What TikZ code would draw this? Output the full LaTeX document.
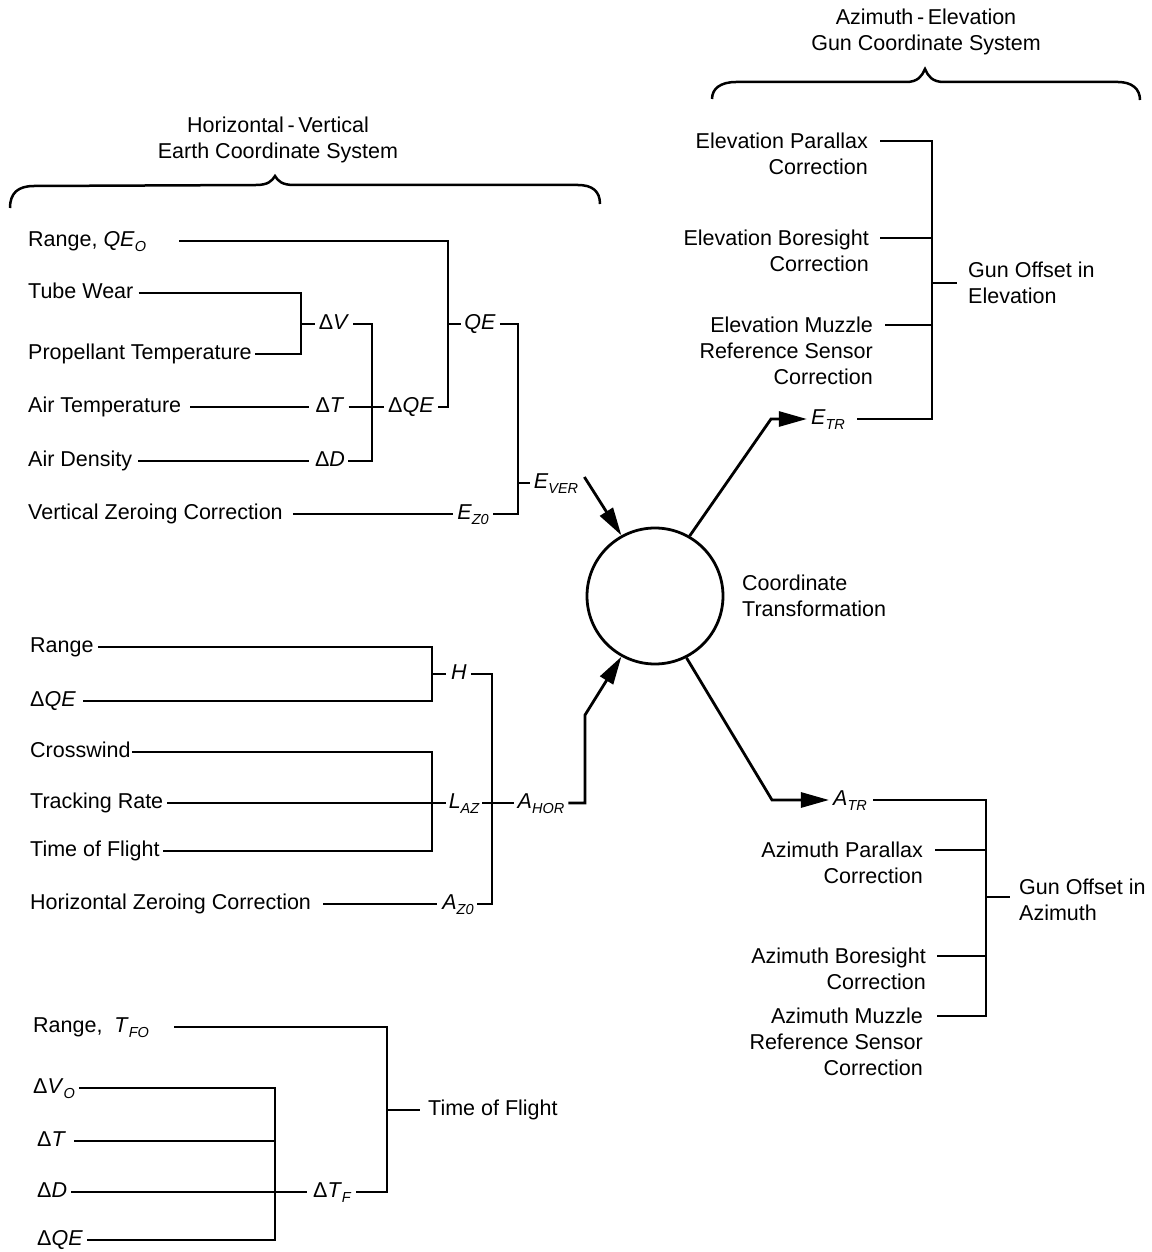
\documentclass[tikz,border=0pt]{standalone}
\usepackage{fontspec}
\setmainfont{Liberation Sans}
\usetikzlibrary{arrows.meta}
\newcommand\fsz{\fontsize{21.5}{26}\selectfont}
\newcommand\sub[2]{\textit{#1}\raisebox{-5pt}{\fontsize{14.5}{15}\selectfont\itshape #2}}

\begin{document}
\begin{tikzpicture}[x=1pt,y=-1pt,font=\fsz,
  lab/.style={inner sep=0pt,text height=15pt,text depth=4pt},
  txt/.style={lab,anchor=west},
  mid/.style={lab,anchor=center},
  blk/.style={inner sep=0pt,align=right,anchor=north east},
  side/.style={inner sep=0pt,align=left,anchor=west},
  wire/.style={line width=2.8pt},
  arr/.style={line width=2.8pt,-{Triangle[length=28pt,width=15pt]}},
  brace/.style={line width=2.5pt},
]
\fill[white] (0,0) rectangle (1151,1252);
\useasboundingbox (0,0) rectangle (1151,1252);

% ---------- group titles and braces ----------
\node[inner sep=0pt,align=center] (t1) at (278,140) {Horizontal\,-\,Vertical\\Earth Coordinate System};
\node[inner sep=0pt,align=center] (t2) at (926,32) {Azimuth\,-\,Elevation\\Gun Coordinate System};

\draw[brace] (10,208) .. controls (10,193) and (18,186) .. (34,186) -- (256,185)
  .. controls (268,185) and (272,181) .. (275,176)
  .. controls (278,181) and (282,185) .. (294,185) -- (578,185)
  .. controls (592,185) and (600,191) .. (600,204);
\draw[brace] (712,99) .. controls (712,89) and (720,82) .. (736,82) -- (906,82)
  .. controls (918,82) and (922,76) .. (925,69)
  .. controls (928,76) and (932,82) .. (944,82) -- (1118,82)
  .. controls (1132,82) and (1140,89) .. (1140,100);

% ---------- vertical (elevation) inputs ----------
\node[txt] (r1) at (28,241) {Range, \sub{QE}{O}};
\node[txt] (tw) at (28,293) {Tube Wear};
\node[txt] (pt) at (28,354) {Propellant Temperature};
\node[txt] (at) at (28,407) {Air Temperature};
\node[txt] (ad) at (28,461) {Air Density};
\node[txt] (vz) at (28,514) {Vertical Zeroing Correction};
\node[mid] (dV) at (334,324) {Δ\textit{V}};
\node[mid] (dT) at (330,407) {Δ\textit{T}};
\node[mid] (dD) at (330,461) {Δ\textit{D}};
\node[mid] (dQE) at (411,407) {Δ\textit{QE}};
\node[mid] (QE) at (480,324) {\textit{QE}};
\node[mid] (Ez) at (473,514) {\sub{E}{Z0}};
\node[mid] (Ev) at (556,483) {\sub{E}{VER}};

\coordinate (jV) at (301,324);
\coordinate (jQ) at (372,407);
\coordinate (jQE) at (448,324);
\coordinate (jE) at (518,483);

\draw[wire] ([xshift=33pt]r1.east) -| (jQE) |- ([xshift=4pt]dQE.east);
\draw[wire] (jQE) -- ([xshift=-3pt]QE.west);
\draw[wire] ([xshift=5pt]tw.east) -| (jV) |- ([xshift=3pt]pt.east);
\draw[wire] (jV) -- ([xshift=-4pt]dV.west);
\draw[wire] ([xshift=4pt]dV.east) -| (jQ) |- ([xshift=3pt]dD.east);
\draw[wire] ([xshift=4pt]dT.east) -- ([xshift=-4pt]dQE.west);
\draw[wire] ([xshift=9pt]at.east) -- ([xshift=-6pt]dT.west);
\draw[wire] ([xshift=6pt]ad.east) -- ([xshift=-6pt]dD.west);
\draw[wire] ([xshift=10pt]vz.east) -- ([xshift=-4pt]Ez.west);
\draw[wire] ([xshift=4pt]QE.east) -| (jE) |- ([xshift=4pt]Ez.east);
\draw[wire] (jE) -- ([xshift=-4pt]Ev.west);

% ---------- transformation ----------
\node[draw,circle,line width=2.8pt,minimum size=136pt,inner sep=0pt] (ct) at (655,596) {};
\node[side] (ctl) at (742,596) {Coordinate\\Transformation};

\draw[arr] ([shift={(6,-6)}]Ev.east) -- (ct.119);

\node[mid] (Etr) at (828,419) {\sub{E}{TR}};
\coordinate (kTR) at (771,419);
\draw[arr] (ct.60) -- (kTR) -- ([xshift=-4pt]Etr.west);

\node[mid] (Atr) at (850,800) {\sub{A}{TR}};
\coordinate (kAR) at (772,800);
\draw[arr] (ct.-63) -- (kAR) -- ([xshift=-4pt]Atr.west);

% ---------- horizontal (azimuth) inputs ----------
\node[txt] (rg) at (30,647) {Range};
\node[txt] (dq) at (30,701) {Δ\textit{QE}};
\node[txt] (cw) at (30,752) {Crosswind};
\node[txt] (tr) at (30,803) {Tracking Rate};
\node[txt] (tf) at (30,851) {Time of Flight};
\node[txt] (hz) at (30,904) {Horizontal Zeroing Correction};
\node[mid] (H) at (459,674) {\textit{H}};
\node[mid] (Laz) at (464,803) {\sub{L}{AZ}};
\node[mid] (Ahor) at (541,803) {\sub{A}{HOR}};
\node[mid] (Az) at (458,904) {\sub{A}{Z0}};

\coordinate (jH) at (432,674);
\coordinate (jL) at (432,803);
\coordinate (jA) at (492,803);
\coordinate (kAH) at (585,715);

\draw[wire] ([xshift=4pt]rg.east) -| (jH) |- ([xshift=7pt]dq.east);
\draw[wire] (jH) -- ([xshift=-5pt]H.west);
\draw[wire] ([xshift=1pt]cw.east) -| (jL) |- ([xshift=3pt]tf.east);
\draw[wire] ([xshift=4pt]tr.east) -- ([xshift=-3pt]Laz.west);
\draw[wire] ([xshift=4pt]H.east) -| (jA) |- ([xshift=3pt]Az.east);
\draw[wire] ([xshift=3pt]Laz.east) -- ([xshift=-4pt]Ahor.west);
\draw[wire] ([xshift=12pt]hz.east) -- ([xshift=-5pt]Az.west);
\draw[arr] ([xshift=4pt]Ahor.east) -| (kAH) -- (ct.-119);

% ---------- time of flight ----------
\node[txt] (rt) at (33,1027) {Range,\ \ \sub{T}{FO}};
\node[txt] (dv0) at (33,1088) {Δ\sub{V}{O}};
\node[txt] (dt2) at (37,1141) {Δ\textit{T}};
\node[txt] (dd2) at (37,1192) {Δ\textit{D}};
\node[txt] (dq2) at (37,1240) {Δ\textit{QE}};
\node[mid] (dTF) at (332,1192) {Δ\sub{T}{F}};
\node[txt] (tof) at (428,1110) {Time of Flight};

\coordinate (jT) at (387,1110);
\coordinate (jF) at (275,1141);

\draw[wire] ([xshift=25pt]rt.east) -| (jT) |- ([xshift=5pt]dTF.east);
\draw[wire] (jT) -- ([xshift=-8pt]tof.west);
\draw[wire] ([xshift=4pt]dv0.east) -| (jF) |- ([xshift=4pt]dq2.east);
\draw[wire] ([xshift=8pt]dt2.east) -- (jF);
\draw[wire] ([xshift=4pt]dd2.east) -- ([xshift=-6pt]dTF.west);

% ---------- gun offset in elevation ----------
\node[blk] (ep) at (868,133) {Elevation Parallax\\Correction};
\node[blk] (eb) at (869,230) {Elevation Boresight\\Correction};
\node[blk] (em) at (873,317) {Elevation Muzzle\\Reference Sensor\\Correction};
\node[side] (goe) at (968,283) {Gun Offset in\\Elevation};
\coordinate (jG) at (932,283);

\draw[wire] ([shift={(12,8)}]ep.north east) -| (jG) |- ([xshift=12pt]Etr.east);
\draw[wire] ([shift={(11,8)}]eb.north east) -| (jG);
\draw[wire] ([shift={(12,8)}]em.north east) -| (jG);
\draw[wire] (jG) -- ([xshift=-11pt]goe.west |- jG);

% ---------- gun offset in azimuth ----------
\node[blk] (ap) at (923,842) {Azimuth Parallax\\Correction};
\node[blk] (ab) at (926,948) {Azimuth Boresight\\Correction};
\node[blk] (am) at (923,1008) {Azimuth Muzzle\\Reference Sensor\\Correction};
\node[side] (goa) at (1019,900) {Gun Offset in\\Azimuth};
\coordinate (jGa) at (986,897);

\draw[wire] ([xshift=6pt]Atr.east) -| (jGa) |- ([shift={(14,8)}]am.north east);
\draw[wire] ([shift={(12,8)}]ap.north east) -| (jGa);
\draw[wire] ([shift={(11,8)}]ab.north east) -| (jGa);
\draw[wire] (jGa) -- ([xshift=-9pt]goa.west |- jGa);
\end{tikzpicture}
\end{document}
